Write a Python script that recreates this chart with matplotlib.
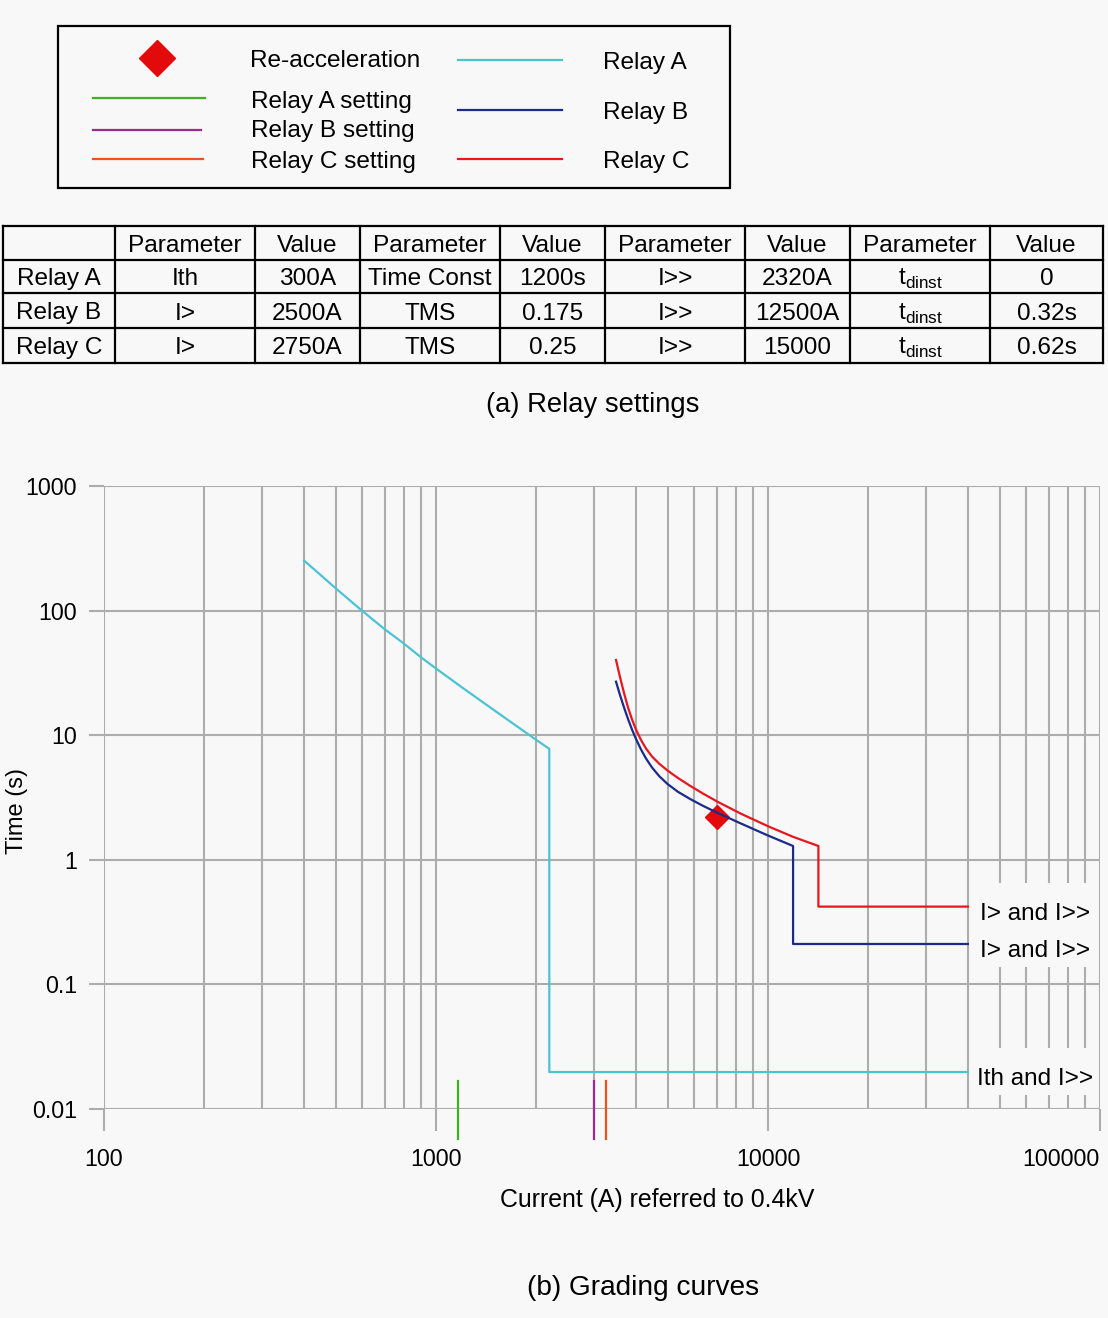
import matplotlib.pyplot as plt
from matplotlib.patches import Rectangle
from matplotlib.ticker import NullLocator

# fonts: Arial-like text, mathtext for the t_dinst subscript
plt.rcParams['font.family'] = ['Liberation Sans', 'DejaVu Sans']
plt.rcParams['mathtext.fontset'] = 'custom'
plt.rcParams['mathtext.rm'] = 'Liberation Sans'

BG = '#f8f8f8'
GRID = '#adadad'
CYAN = '#4cc3d3'
NAVY = '#1c2a8a'
RED = '#e8161e'
GREEN = '#3db41f'
MAGENTA = '#9a2c8e'
ORANGE = '#f0501e'
DIAMOND = '#e20a0a'

# ---- table data ----
table_header = ["", "Parameter", "Value", "Parameter", "Value",
                "Parameter", "Value", "Parameter", "Value"]
relay_names = ["Relay A", "Relay B", "Relay C"]
param_1 = ["Ith", "I>", "I>"]
value_1 = ["300A", "2500A", "2750A"]
param_2 = ["Time Const", "TMS", "TMS"]
value_2 = ["1200s", "0.175", "0.25"]
param_3 = ["I>>", "I>>", "I>>"]
value_3 = ["2320A", "12500A", "15000"]
param_4 = [r"t$_{\mathrm{dinst}}$"] * 3
value_4 = ["0", "0.32s", "0.62s"]

# ---- grading curves (current A, time s) ----
relayA_I = [401, 500, 600, 700, 800, 900, 1000, 1200, 1500, 2000, 2194, 2194, 40000]
relayA_t = [251.5, 150.2, 99.3, 71.0, 54.4, 42.3, 34.3, 24.1, 15.8, 9.2, 7.77, 0.0198, 0.0198]

relayB_I = [3485, 3583, 3684, 3787, 3894, 4003, 4145, 4291, 4473, 4696, 4980,
            5358, 5822, 6372, 6910, 8134, 9924, 11900, 11900, 40000]
relayB_t = [26.9, 21.0, 16.7, 13.5, 11.1, 9.32, 7.68, 6.50, 5.51, 4.71, 4.06,
            3.51, 3.08, 2.71, 2.44, 2.00, 1.58, 1.29, 0.211, 0.211]

relayC_I = [3485, 3583, 3684, 3787, 3894, 4003, 4145, 4291, 4473, 4696, 4980,
            5358, 5822, 6372, 7070, 8328, 10042, 11894, 14185, 14185, 40000]
relayC_t = [40.1, 29.3, 21.8, 16.7, 13.4, 11.1, 9.15, 7.82, 6.75, 5.93, 5.21,
            4.53, 3.93, 3.40, 2.91, 2.33, 1.85, 1.53, 1.29, 0.421, 0.421]

reaccel_I = [7000]
reaccel_t = [2.22]

# setting markers (current) and their vertical extent (time)
setting_I = [1162, 2999, 3251]
setting_colors = [GREEN, MAGENTA, ORANGE]
setting_t = [0.0168, 0.00574]

curve_labels = ["I> and I>>", "I> and I>>", "Ith and I>>"]

xticks = [100, 1000, 10000, 100000]
xtick_labels = ["100", "1000", "10000", "100000"]
yticks = [0.01, 0.1, 1, 10, 100, 1000]
ytick_labels = ["0.01", "0.1", "1", "10", "100", "1000"]

W, H = 1108, 1318
fig = plt.figure(figsize=(W / 100, H / 100), dpi=100, facecolor=BG)

# ---- main log-log plot ----
ax = fig.add_axes([104 / W, 1 - 1109 / H, 996 / W, 623 / H])
ax.set_facecolor(BG)
ax.set_xscale('log')
ax.set_yscale('log')
ax.set_xlim(100, 100000)
ax.set_ylim(0.01, 1000)
for s in ax.spines.values():
    s.set_visible(False)
ax.set_axisbelow(True)
ax.yaxis.set_minor_locator(NullLocator())
ax.grid(True, which='major', color=GRID, lw=1.5)
ax.grid(True, which='minor', axis='x', color=GRID, lw=1.5)
ax.set_xticks(xticks)
ax.set_xticklabels(xtick_labels)
ax.set_yticks(yticks)
ax.set_yticklabels(ytick_labels)
ax.tick_params(axis='y', which='major', direction='out', length=10.8, width=1.5,
               color=GRID, pad=8.5, labelsize=16.7)
ax.tick_params(axis='x', which='major', direction='out', length=15.5, width=1.5,
               color=GRID, pad=12.5, labelsize=16.7)
ax.tick_params(which='minor', length=0)
ax.get_xticklabels()[-1].set_ha('right')

ax.plot(reaccel_I, reaccel_t, marker='D', ms=12.5, color=DIAMOND, ls='none', zorder=2)
ax.plot(relayA_I, relayA_t, color=CYAN, lw=1.6, zorder=3)
ax.plot(relayB_I, relayB_t, color=NAVY, lw=1.6, zorder=3)
ax.plot(relayC_I, relayC_t, color=RED, lw=1.6, zorder=3)
for I, c in zip(setting_I, setting_colors):
    ax.plot([I, I], setting_t, color=c, lw=1.6, clip_on=False, zorder=3)

# ---- overlay in pixel coordinates for legend, table, captions ----
ov = fig.add_axes([0, 0, 1, 1])
ov.set_xlim(0, W)
ov.set_ylim(H, 0)
ov.axis('off')

FS = 17.6

# legend box
ov.add_patch(Rectangle((58, 26), 672, 162, fill=False, ec='black', lw=1.6))
ov.plot([157], [58], marker='D', ms=18, color=DIAMOND, ls='none')
ov.plot([93, 205], [98, 98], color=GREEN, lw=1.6)
ov.plot([93, 201], [130, 130], color=MAGENTA, lw=1.6)
ov.plot([93, 203], [159, 159], color=ORANGE, lw=1.6)
ov.plot([458, 562], [60, 60], color=CYAN, lw=1.6)
ov.plot([458, 562], [110, 110], color=NAVY, lw=1.6)
ov.plot([458, 562], [159, 159], color=RED, lw=1.6)
ov.text(250, 67, "Re-acceleration", fontsize=FS, va='baseline')
ov.text(251, 108, "Relay A setting", fontsize=FS, va='baseline')
ov.text(251, 137, "Relay B setting", fontsize=FS, va='baseline')
ov.text(251, 168, "Relay C setting", fontsize=FS, va='baseline')
ov.text(603, 69, "Relay A", fontsize=FS, va='baseline')
ov.text(603, 119, "Relay B", fontsize=FS, va='baseline')
ov.text(603, 168, "Relay C", fontsize=FS, va='baseline')

# table
col_x = [3, 115, 255, 360, 500, 605, 745, 850, 990, 1103]
row_y = [226, 260, 293, 328, 363]
for x in col_x:
    ov.plot([x, x], [row_y[0], row_y[-1]], color='black', lw=1.6)
for y in row_y:
    ov.plot([col_x[0], col_x[-1]], [y, y], color='black', lw=1.6)
rows = [table_header]
for i in range(3):
    rows.append([relay_names[i], param_1[i], value_1[i], param_2[i], value_2[i],
                 param_3[i], value_3[i], param_4[i], value_4[i]])
baselines = [252.5, 285, 319.5, 354]
for r, row in enumerate(rows):
    for c, txt in enumerate(row):
        cx = (col_x[c] + col_x[c + 1]) / 2
        ov.text(cx, baselines[r], txt, fontsize=FS, ha='center', va='baseline')

ov.text(593, 412, "(a) Relay settings", fontsize=19.7, ha='center', va='baseline')

# label boxes masking the minor grid on the right
ov.add_patch(Rectangle((971.5, 883), 125.5, 84, fc=BG, ec='none'))
ov.add_patch(Rectangle((971.5, 1048), 125.5, 47, fc=BG, ec='none'))
ov.text(980, 920, curve_labels[0], fontsize=17.5, va='baseline')
ov.text(980, 957, curve_labels[1], fontsize=17.5, va='baseline')
ov.text(977, 1085, curve_labels[2], fontsize=17.5, va='baseline')

ov.text(17, 811, "Time (s)", fontsize=17, rotation=90, ha='center', va='center')
ov.text(657, 1207, "Current (A) referred to 0.4kV", fontsize=17.9, ha='center', va='baseline')
ov.text(643, 1295, "(b) Grading curves", fontsize=20.2, ha='center', va='baseline')

fig.savefig('out.png', dpi=100, facecolor=BG)
